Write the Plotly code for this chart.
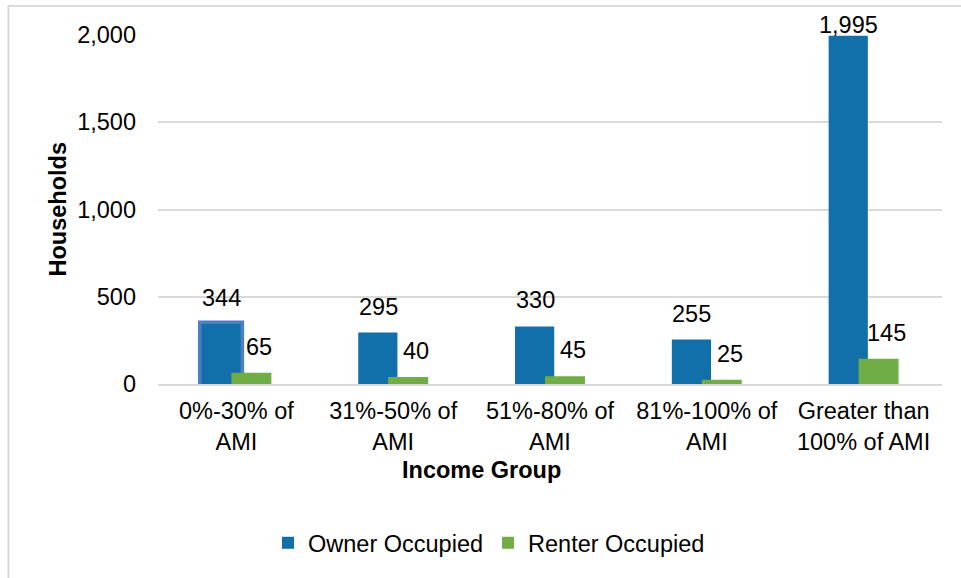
import plotly.graph_objects as go

categories = ["0%-30% of<br>AMI", "31%-50% of<br>AMI", "51%-80% of<br>AMI",
              "81%-100% of<br>AMI", "Greater than<br>100% of AMI"]
owner = [344, 295, 330, 255, 1995]
renter = [65, 40, 45, 25, 145]

BLUE = "#1170AA"
GREEN = "#70AD47"
GRID = "#D9D9D9"
FONT = "Liberation Sans, Arial, sans-serif"
FS = 23.5

W, H = 961, 578
L, R, T, B = 158, 19, 35, 194
PW, PH = W - L - R, H - T - B
YMAX = 2000

fig = go.Figure()

# blue selection outline around the first bar, as in the original
fig.add_trace(go.Bar(
    x=categories[:1], y=owner[:1], showlegend=False, hoverinfo="skip",
    marker=dict(color="rgba(0,0,0,0)", line=dict(color="#4F7FC3", width=7)),
    offset=-0.223, width=0.25,
))
fig.add_trace(go.Bar(
    x=categories, y=owner, name="Owner Occupied",
    marker=dict(color=BLUE, line=dict(width=0)),
    offset=-0.223, width=0.25,
))
fig.add_trace(go.Bar(
    x=categories, y=renter, name="Renter Occupied",
    marker=dict(color=GREEN, line=dict(width=0)),
    offset=-0.032, width=0.255,
))


def label_shift(v):
    # keep labels inside the page like Excel does
    top_px = T + (YMAX - v) * PH / YMAX
    shift = 11
    if top_px - shift - 27 < 13:
        shift = max(top_px - 13 - 27, -8)
    return shift


for c, v in zip(categories, owner):
    fig.add_annotation(x=c, y=v, text=f"{v:,}", showarrow=False,
                       yanchor="bottom", xshift=-15, yshift=label_shift(v),
                       font=dict(size=FS, color="black", family=FONT))
for c, v in zip(categories, renter):
    fig.add_annotation(x=c, y=v, text=f"{v:,}", showarrow=False,
                       yanchor="bottom", xshift=23, yshift=label_shift(v),
                       font=dict(size=FS, color="black", family=FONT))

# axis titles
fig.add_annotation(x=(481 - L) / PW, y=(384 - 470) / PH, xref="paper", yref="paper",
                   text="<b>Income Group</b>", showarrow=False,
                   xanchor="center", yanchor="middle",
                   font=dict(size=FS, color="black", family=FONT))
fig.add_annotation(x=(57 - L) / PW, y=0.5, xref="paper", yref="paper",
                   text="<b>Households</b>", showarrow=False, textangle=-90,
                   xanchor="center", yanchor="middle",
                   font=dict(size=FS, color="black", family=FONT))

# outer chart border
fig.add_shape(type="rect", xref="paper", yref="paper",
              x0=(8.5 - L) / PW, x1=(W + 10 - L) / PW,
              y0=-(H + 10 - T - PH) / PH, y1=1 + (T - 6) / PH,
              line=dict(color=GRID, width=2), fillcolor="rgba(0,0,0,0)", layer="below")

fig.update_layout(
    width=W, height=H,
    margin=dict(l=L, r=R, t=T, b=B, autoexpand=False),
    barmode="overlay",
    plot_bgcolor="white", paper_bgcolor="white",
    font=dict(family=FONT, size=FS, color="black"),
    showlegend=True,
    legend=dict(orientation="h", x=(489 - L) / PW, xanchor="center",
                y=(384 - 543) / PH, yanchor="middle",
                font=dict(size=FS, color="black", family=FONT),
                itemwidth=30, traceorder="normal"),
    xaxis=dict(showgrid=False, showline=True, linecolor=GRID, linewidth=2,
               ticks="", tickfont=dict(size=FS, color="black"),
               ticklabelstandoff=5),
    yaxis=dict(range=[0, YMAX], tickvals=[0, 500, 1000, 1500, 2000],
               tickformat=",", showgrid=True, gridcolor=GRID, gridwidth=2,
               zeroline=False, showline=False, ticks="",
               tickfont=dict(size=FS, color="black"), ticklabelstandoff=21),
)

# drop the default page margin so the figure sits at the window's corner
fig.write_html("out.html", config={"displayModeBar": False},
               post_script="document.body.style.margin='0px';")
